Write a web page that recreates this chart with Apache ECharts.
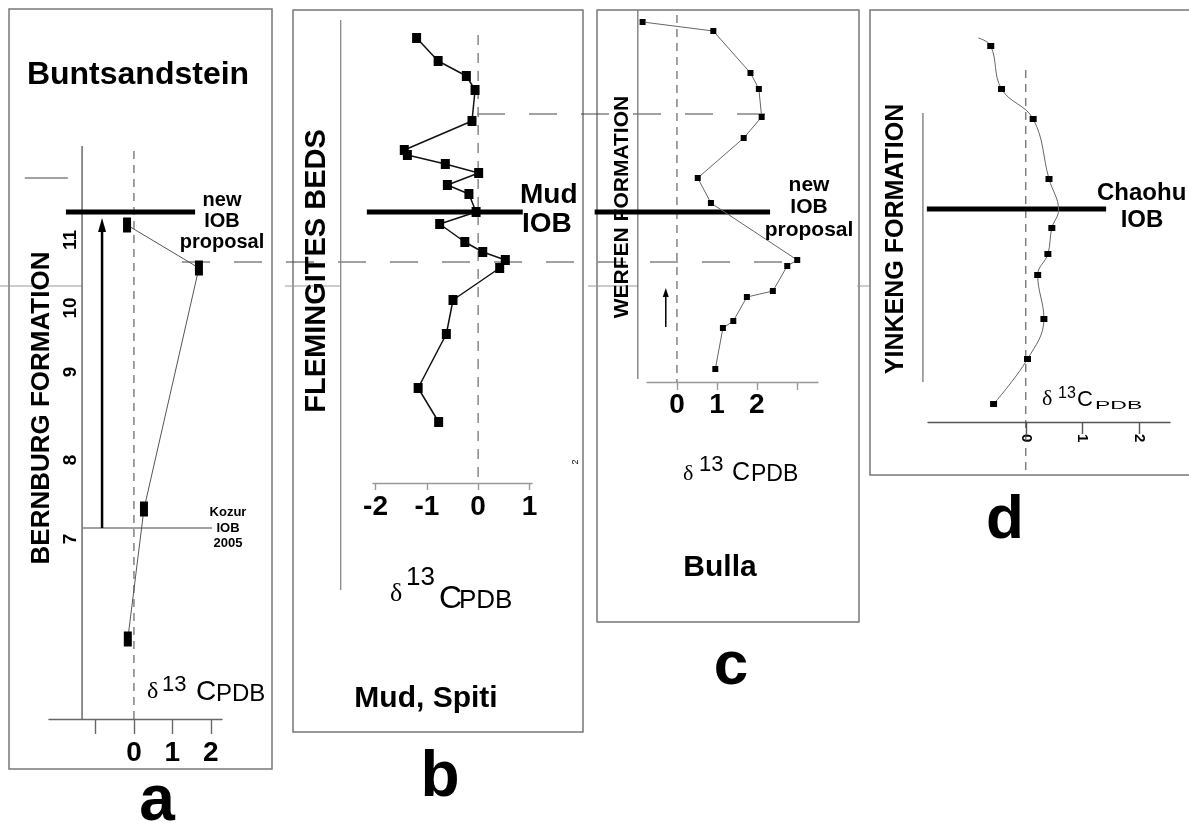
<!DOCTYPE html>
<html>
<head>
<meta charset="utf-8">
<script src="https://cdn.jsdelivr.net/npm/echarts@6/dist/echarts.min.js"></script>
<style>
  html, body { margin: 0; padding: 0; background: #fff; }
  #main { width: 1189px; height: 825px; }
</style>
</head>
<body>
<div id="main"></div>
<script>
// panel a - Bernburg (Buntsandstein): d13C vs height
const aDelta = [-0.18, 1.69, 0.26, -0.16];
const aHeight = [49.4, 45.1, 21.0, 8.0];
const aBedLabels = ['7', '8', '9', '10', '11'];
const aBedHeights = [18.0, 25.9, 34.7, 41.1, 47.9];
const aTicks = [-1, 0, 1, 2];
const aTickLabels = [0, 1, 2];

// panel b - Mud, Spiti
const bDelta = [-1.20, -0.78, -0.23, -0.06, -0.12, -1.44, -1.38, -0.64, 0.01, -0.60, -0.18,
  -0.04, -0.75, -0.26, 0.09, 0.53, 0.42, -0.49, -0.62, -1.17, -0.77];
const bHeight = [44.5, 42.2, 40.7, 39.3, 36.2, 33.3, 32.8, 31.9, 31.0, 29.8, 28.9,
  27.1, 25.9, 24.1, 23.1, 22.3, 21.5, 18.3, 14.9, 9.5, 6.1];
const bTicks = [-2, -1, 0, 1];

// panel c - Bulla
const cDelta = [-0.86, 0.91, 1.84, 2.05, 2.12, 1.67, 0.52, 0.85, 3.01, 2.76, 2.40, 1.75, 1.41, 1.15, 0.96];
const cHeight = [36.0, 35.1, 30.9, 29.3, 26.5, 24.4, 20.4, 17.9, 12.2, 11.6, 9.1, 8.5, 6.1, 5.4, 1.3];
const cTicks = [0, 1, 2, 3];
const cTickLabels = [0, 1, 2];

// panel d - Chaohu (curve points without a marker are flagged)
const dDelta = [-0.84, -0.62, -0.43, 0.13, 0.41, 0.58, 0.46, 0.39, 0.21, 0.32, 0.03, -0.57];
const dHeight = [38.4, 37.6, 33.3, 30.3, 24.3, 21.2, 19.4, 16.8, 14.7, 10.3, 6.3, 1.8];
const dNoMark = [true, false, false, false, false, true, false, false, false, false, false, false];
const dTicks = [0, 1, 2];

// boundary lines in panel units: [height, fromDelta, toDelta]
const iobA = [50.7, -1.77, 1.59];
const kozurA = [19.1, -1.33, 2.03];
const topMarkA = [54.1, -2.84, -1.72];
const iobB = [27.1, -2.17, 0.87];
const iobC = [17.0, -2.06, 2.33];
const iobD = [21.3, -1.75, 1.42];

const FONT = '"Liberation Sans", Arial, Helvetica, sans-serif';

const chart = echarts.init(document.getElementById('main'));

function labelStyle(size, extra) {
  return Object.assign({ color: '#000', fontSize: size, fontWeight: 'bold', fontFamily: FONT }, extra || {});
}

function xAxisOf(grid, min, max, ticks, labels, lineColor, tickLen, label) {
  return {
    gridIndex: grid, type: 'value', min: min, max: max,
    axisLine: { show: true, onZero: false, lineStyle: { color: lineColor, width: 1.4 } },
    axisTick: { show: true, length: tickLen, customValues: ticks, lineStyle: { color: lineColor, width: 1.4 } },
    axisLabel: Object.assign({ customValues: labels }, label),
    splitLine: { show: false }
  };
}

function hiddenY(grid, max) {
  return {
    gridIndex: grid, type: 'value', min: 0, max: max,
    axisLine: { show: false }, axisTick: { show: false },
    axisLabel: { show: false }, splitLine: { show: false }
  };
}

function pairs(xs, ys) {
  return xs.map((x, i) => [x, ys[i]]);
}

chart.setOption({
  animation: false,
  backgroundColor: '#fff',
  grid: [
    { left: 49, top: 146, width: 173, height: 573, outerBoundsMode: 'none' },
    { left: 373, top: 20, width: 159, height: 463, outerBoundsMode: 'none' },
    { left: 647, top: 10, width: 171, height: 372, outerBoundsMode: 'none' },
    { left: 928, top: 38, width: 242, height: 384, outerBoundsMode: 'none' }
  ],
  xAxis: [
    xAxisOf(0, -2.21, 2.29, aTicks, aTickLabels, '#666', 15, labelStyle(28, { margin: 20 })),
    xAxisOf(1, -2.05, 1.05, bTicks, bTicks, '#999', 7, labelStyle(28, { margin: 10 })),
    xAxisOf(2, -0.75, 3.53, cTicks, cTickLabels, '#999', 8, labelStyle(28, { margin: 9 })),
    xAxisOf(3, -1.73, 2.55, dTicks, dTicks, '#555', 12, labelStyle(15, { margin: 12, rotate: -90 }))
  ],
  yAxis: [
    {
      gridIndex: 0, type: 'value', min: 0, max: 57.3, position: 'left', offset: -33,
      axisLine: { show: false }, axisTick: { show: false }, splitLine: { show: false },
      axisLabel: labelStyle(19, {
        customValues: aBedHeights, rotate: 90, margin: 2,
        formatter: function (v) {
          let best = 0;
          aBedHeights.forEach((h, i) => { if (Math.abs(h - v) < Math.abs(aBedHeights[best] - v)) best = i; });
          return aBedLabels[best];
        }
      })
    },
    hiddenY(1, 46.3),
    hiddenY(2, 37.2),
    hiddenY(3, 38.4)
  ],
  series: [
    {
      type: 'line', xAxisIndex: 0, yAxisIndex: 0, clip: false,
      data: pairs(aDelta, aHeight),
      symbol: 'rect', symbolSize: [8, 15],
      itemStyle: { color: '#000' },
      lineStyle: { color: '#555', width: 1 }
    },
    {
      type: 'line', xAxisIndex: 1, yAxisIndex: 1, clip: false,
      data: pairs(bDelta, bHeight),
      symbol: 'rect', symbolSize: [9, 10],
      itemStyle: { color: '#000' },
      lineStyle: { color: '#111', width: 1.5 }
    },
    {
      type: 'line', xAxisIndex: 2, yAxisIndex: 2, clip: false,
      data: pairs(cDelta, cHeight),
      symbol: 'rect', symbolSize: [6, 6],
      itemStyle: { color: '#000' },
      lineStyle: { color: '#666', width: 1 }
    },
    {
      type: 'line', xAxisIndex: 3, yAxisIndex: 3, clip: false, smooth: 0.4,
      data: dDelta.map((x, i) => dNoMark[i] ? { value: [x, dHeight[i]], symbol: 'none' } : [x, dHeight[i]]),
      symbol: 'rect', symbolSize: [7, 6],
      itemStyle: { color: '#000' },
      lineStyle: { color: '#666', width: 1 }
    }
  ]
});

// ---- annotations: boundary lines placed through each grid's scales ----
function P(g, x, y) {
  return chart.convertToPixel({ gridIndex: g }, [x, y]);
}
function seg(p, q, style, z) {
  return { type: 'line', z: z == null ? 1 : z, shape: { x1: p[0], y1: p[1], x2: q[0], y2: q[1] }, style: style };
}
function hLine(g, def, style) {
  return seg(P(g, def[1], def[0]), P(g, def[2], def[0]), style);
}
function vLine(g, x, h1, h2, style) {
  return seg(P(g, x, h1), P(g, x, h2), style);
}
function arrow(g, x, h1, h2, width, head) {
  const a = P(g, x, h1), b = P(g, x, h2);
  return [
    seg(a, [b[0], b[1] + head[1] - 1], { stroke: '#000', lineWidth: width }),
    { type: 'polygon', z: 1, shape: { points: [[b[0], b[1]], [b[0] - head[0], b[1] + head[1]], [b[0] + head[0], b[1] + head[1]]] }, style: { fill: '#000' } }
  ];
}
function T(x, y, text, size, opt) {
  opt = opt || {};
  return {
    type: 'text', x: x, y: y, z: 5,
    rotation: opt.rot || 0, scaleX: opt.sx || 1, scaleY: opt.sy || 1,
    style: {
      text: text, fill: '#000',
      font: (opt.weight || 'bold') + ' ' + size + 'px ' + (opt.family || FONT),
      textAlign: opt.align || 'center', textVerticalAlign: 'middle'
    }
  };
}
function box(x, y, w, h) {
  return { type: 'rect', z: 0, shape: { x: x, y: y, width: w, height: h }, style: { fill: 'none', stroke: '#777', lineWidth: 1.5 } };
}
const SERIF = '"Liberation Serif", "DejaVu Serif", serif';
function delta(parts) {
  // parts: [delta, thirteen, C, PDB] each [left, middleY, size, scaleY]
  const txt = ['δ', '13', 'C', 'PDB'];
  return parts.map((p, i) => T(p[0], p[1], txt[i], p[2], {
    align: 'left', weight: 'normal', family: i === 0 ? SERIF : FONT, sy: p[3] || 1
  }));
}

const thin = { stroke: '#444', lineWidth: 1 };
const thick = { stroke: '#000', lineWidth: 5 };
const ROT = Math.PI / 2;

const g = [];
// panel frames
g.push(box(9, 9, 263, 760), box(293, 10, 290, 722), box(597, 10, 262, 612), box(870, 10, 340, 465));

// faint line behind the panels, visible only left of each column
[[0, 82], [285, 341], [588, 638], [857, 870]].forEach(s => g.push(seg([s[0], 286], [s[1], 286], { stroke: '#999', lineWidth: 1 }, 0)));
// correlation dashes across b and c
g.push(seg([182, 262], [802, 262], { stroke: '#444', lineWidth: 1, lineDash: [28, 24] }, 0));
g.push(seg([477, 114], [778, 114], { stroke: '#444', lineWidth: 1, lineDash: [28, 24] }, 0));

// panel a
g.push(vLine(0, -1.35, 0, 57.3, { stroke: '#555', lineWidth: 1.3 }));
g.push(vLine(0, 0, 0, 57.3, { stroke: '#444', lineWidth: 1, lineDash: [8, 6] }));
g.push(hLine(0, iobA, thick), hLine(0, kozurA, thin), hLine(0, topMarkA, thin));
g.push(...arrow(0, -0.83, 19.1, 50.1, 2.5, [4, 14]));
g.push(T(138, 75, 'Buntsandstein', 32));
g.push(T(222, 200, 'new', 20), T(222, 221, 'IOB', 20), T(222, 242, 'proposal', 20));
g.push(T(228, 512, 'Kozur', 13), T(228, 528, 'IOB', 13), T(228, 543, '2005', 13));
g.push(T(42, 408, 'BERNBURG FORMATION', 26, { rot: ROT }));
g.push(...delta([[147, 692, 24], [162, 685, 22], [196, 692, 28], [216, 694, 24]]));
g.push(T(157, 802, 'a', 64));

// panel b
g.push(vLine(1, -2.68, 46.3, -10.7, { stroke: '#888', lineWidth: 1.3 }));
g.push(vLine(1, 0, 44.8, 0, { stroke: '#888', lineWidth: 1.5, lineDash: [10, 8] }));
g.push(hLine(1, iobB, thick));
g.push(T(520, 195, 'Mud', 28, { align: 'left' }), T(522, 224, 'IOB', 28, { align: 'left' }));
g.push(T(317, 271, 'FLEMINGITES BEDS', 29, { rot: ROT }));
g.push(...delta([[390, 594, 26], [406, 578, 26], [439, 599, 32], [459, 601, 26]]));
g.push(T(426, 699, 'Mud, Spiti', 30));
g.push(T(576, 462, '2', 9, { rot: ROT, weight: 'normal' }));
g.push(T(440, 778, 'b', 64));

// panel c
g.push(vLine(2, -0.98, 37.2, 0.3, { stroke: '#777', lineWidth: 1.3 }));
g.push(vLine(2, 0, 36.7, 0, { stroke: '#444', lineWidth: 1, lineDash: [8, 6] }));
g.push(hLine(2, iobC, thick));
g.push(...arrow(2, -0.28, 5.5, 9.4, 1.5, [3, 9]));
g.push(T(809, 185, 'new', 21), T(809, 207, 'IOB', 21), T(809, 230, 'proposal', 21));
g.push(T(622, 207, 'WERFEN FORMATION', 21, { rot: ROT }));
g.push(...delta([[683, 474, 22], [699, 465, 22], [732, 473, 25], [751, 475, 23]]));
g.push(T(720, 568, 'Bulla', 30));
g.push(T(731, 667, 'c', 62));

// panel d
g.push(vLine(3, -1.82, 30.9, 4.0, { stroke: '#777', lineWidth: 1.3 }));
g.push(vLine(3, 0, 35.2, -5.3, { stroke: '#444', lineWidth: 1, lineDash: [8, 6] }));
g.push(hLine(3, iobD, thick));
g.push(T(1097, 193, 'Chaohu', 24, { align: 'left' }), T(1142, 220, 'IOB', 24));
g.push(T(896, 239, 'YINKENG FORMATION', 25, { rot: ROT }));
g.push(...delta([[1042, 399, 22], [1058, 394, 16], [1077, 400, 22], [1095, 406, 23, 0.45]]));
g.push(T(1005, 521, 'd', 62));

chart.setOption({ graphic: { elements: g } });
</script>
</body>
</html>
